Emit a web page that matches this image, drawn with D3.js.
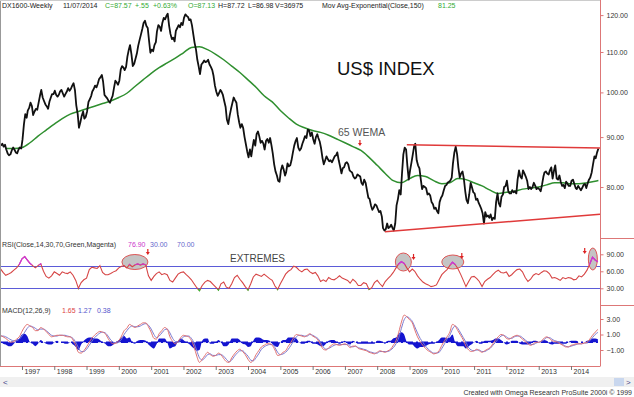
<!DOCTYPE html>
<html>
<head>
<meta charset="utf-8">
<script src="https://cdn.jsdelivr.net/npm/d3@7"></script>
<style>
body { margin: 0; background: #fff; }
svg { display: block; font-family: "Liberation Sans", Arial, sans-serif; }
</style>
</head>
<body>
<svg id="chart" width="634" height="397"></svg>
<script>
let priceClose = [
    88.2, 88.6, 88.0, 88.4, 87.4, 86.6, 86.2, 86.4, 87.2, 87.8, 87.4, 86.8, 86.6, 87.4, 87.8, 87.6,
    89.5, 92.8, 95.0, 94.2, 95.8, 96.4, 97.6, 96.8, 94.8, 95.6, 96.2, 96.0, 97.5, 99.2, 100.6, 98.8, 98.0, 97.2, 96.8, 96.2, 97.8, 98.8, 99.6, 99.6,
    100.4, 99.4, 99.0, 99.5, 100.2, 100.6, 99.8, 99.0, 99.6, 100.2, 101.0, 100.4, 100.8, 101.6, 102.2, 100.5, 97.0, 95.0, 92.0, 93.2, 94.6, 95.6, 94.0, 94.4,
    95.6, 97.8, 98.4, 99.2, 100.2, 100.8, 101.6, 101.2, 102.0, 103.2, 103.6, 104.2, 102.6, 99.4, 99.0, 98.6, 98.0, 97.6, 98.4, 99.2, 101.0, 102.8, 102.4, 101.8,
    102.8, 105.6, 106.4, 106.0, 105.4, 106.2, 108.8, 110.6, 111.8, 109.4, 106.4, 107.0, 108.2, 109.6, 111.6, 113.2, 114.6, 116.2, 117.8, 118.4, 117.0, 116.4, 113.2, 109.8,
    110.6, 110.2, 111.8, 112.6, 115.4, 117.2, 116.8, 115.6, 117.8, 119.2, 118.8, 119.8, 120.4, 117.0, 114.8, 113.4, 113.8, 112.8, 115.6, 116.4, 117.2, 116.6, 117.8, 117.2,
    119.2, 120.2, 119.8, 119.4, 118.6, 118.8, 117.2, 114.6, 112.4, 110.6, 108.0, 106.2, 104.4, 106.8, 107.2, 107.8, 107.4, 107.6, 108.0, 106.8, 106.2, 105.4, 104.0, 101.6,
    100.2, 99.2, 99.8, 100.6, 100.2, 99.4, 98.0, 96.6, 93.8, 92.8, 94.6, 96.2, 97.4, 98.8, 98.2, 97.6, 95.0, 93.2, 92.0, 92.8, 92.0, 90.0, 88.6, 87.0,
    85.8, 87.4, 86.0, 88.0, 89.4, 88.2, 90.6, 91.2, 90.2, 88.8, 89.2, 88.6, 87.4, 89.2, 89.6, 88.8, 89.8, 88.2, 86.6, 84.4, 83.0, 82.2, 81.2, 81.0,
    83.2, 84.2, 83.4, 82.2, 82.8, 84.6, 84.0, 84.2, 85.2, 86.8, 88.2, 89.2, 89.8, 87.8, 87.2, 87.6, 88.6, 89.4, 90.2, 89.8, 91.6, 91.4, 90.2, 91.0,
    89.6, 88.6, 90.0, 90.6, 89.8, 89.0, 87.6, 85.6, 84.4, 85.2, 86.0, 85.4, 85.0, 85.2, 84.8, 85.4, 86.0, 86.2, 86.8, 85.2, 84.0, 82.6, 83.6, 83.8,
    84.6, 84.8, 84.4, 83.2, 83.0, 82.8, 82.0, 81.6, 81.8, 82.4, 82.2, 82.0, 80.8, 80.4, 81.4, 80.8, 79.4, 78.0, 77.8, 76.6, 75.8, 76.2, 76.8, 76.6,
    76.0, 75.4, 75.6, 74.6, 72.6, 72.2, 72.4, 73.4, 72.6, 72.8, 73.2, 72.6, 72.2, 73.4, 76.6, 77.8, 79.4, 78.6, 82.4, 86.4, 87.8, 87.4, 84.2, 81.4,
    83.2, 84.8, 86.4, 88.2, 88.6, 85.2, 84.2, 83.6, 81.6, 79.6, 80.2, 80.0, 79.8, 78.6, 78.8, 78.4, 77.2, 76.8, 76.0, 76.2, 75.6, 75.2, 77.2, 78.0,
    78.4, 79.4, 80.2, 80.4, 80.8, 81.0, 81.2, 81.8, 84.6, 86.8, 88.0, 86.4, 83.8, 81.8, 82.6, 83.0, 81.6, 79.2, 77.6, 77.0, 78.6, 80.8, 80.0, 79.0,
    78.8, 77.6, 77.8, 77.0, 76.6, 76.0, 75.2, 73.4, 75.4, 74.6, 74.8, 74.4, 75.0, 74.0, 74.4, 74.2, 77.2, 78.8, 77.0, 76.4, 78.2, 78.6, 80.0, 80.2,
    81.2, 79.2, 78.8, 78.8, 79.4, 79.0, 79.2, 78.8, 81.4, 83.2, 82.0, 81.6, 83.2, 82.6, 82.0, 81.2, 79.6, 80.0, 79.6, 80.0, 80.8, 80.2, 79.6, 79.8,
    79.6, 79.2, 80.4, 82.0, 82.8, 83.0, 82.6, 82.4, 83.2, 83.8, 81.6, 83.2, 84.2, 81.6, 81.4, 82.2, 81.0, 80.2, 80.4, 79.8, 81.0, 80.6, 80.2, 80.2,
    81.2, 81.4, 80.6, 79.8, 79.6, 80.2, 79.8, 79.4, 79.8, 80.4, 80.6, 79.8, 80.6, 81.4, 81.8, 82.8, 84.4, 86.0, 85.6, 86.8, 87.6
]

// green exponential average, one value per quarter from Jul 1996
let emaValues = [
    87.6, 87.6, 87.8, 88.8, 90.2, 91.5, 92.8, 94.0, 95.0, 95.6, 96.2, 96.8, 97.4, 98.0, 98.8, 99.8,
    101.4, 103.0, 104.6, 106.0, 107.2, 108.4, 109.8, 111.2, 111.4, 110.6, 109.4, 108.0, 106.4, 104.8,
    103.0, 101.2, 99.2, 97.8, 95.8, 94.2, 92.8, 92.0, 91.4, 91.0, 90.4, 89.6, 88.8, 88.0, 87.2, 85.8,
    84.2, 82.6, 81.2, 80.8, 81.6, 82.2, 82.0, 81.2, 80.6, 80.8, 81.6, 81.4, 80.8, 80.2, 79.4, 78.8,
    79.0, 79.2, 79.6, 79.8, 80.0, 80.4, 80.8, 80.8, 80.6, 80.6, 80.8, 81.1
]
let emaLast = 81.25

// monthly RSI(14), May 1996 .. Nov 2014
let rsiValues = [
    65, 58, 53, 55, 58, 62, 66, 72,
    82, 86, 80, 74, 70, 66, 70, 73, 60, 51, 48, 52,
    59, 56, 53, 59, 57, 56, 59, 53, 44, 30, 40, 45,
    48, 63, 67, 66, 65, 70, 58, 54, 54, 56, 59, 61,
    66, 69, 70, 66, 72, 68, 71, 73, 71, 73, 71, 52,
    44, 51, 56, 59, 54, 56, 54, 44, 41, 48, 55, 58,
    59, 54, 50, 45, 38, 31, 26, 35, 41, 44, 42, 37,
    32, 27, 38, 41, 32, 30, 38, 49, 53, 46, 40, 33,
    27, 38, 50, 55, 53, 51, 55, 51, 47, 44, 34, 28,
    38, 47, 55, 60, 63, 69, 67, 62, 59, 63, 64, 59,
    56, 58, 52, 42, 45, 42, 49, 46, 45, 48, 52, 48,
    46, 44, 39, 46, 42, 35, 35, 40, 38, 28, 31, 40,
    44, 38, 33, 42, 47, 52, 58, 66, 73, 77, 74, 66,
    59, 64, 60, 52, 46, 41, 38, 36, 33, 34, 36, 45,
    54, 59, 63, 70, 76, 72, 65, 55, 44, 33, 42, 50,
    51, 47, 42, 33, 42, 46, 49, 54, 59, 62, 58, 57,
    59, 51, 54, 59, 63, 64, 59, 49, 42, 46, 53, 56,
    54, 58, 61, 60, 56, 48, 49, 47, 44, 49, 47, 49,
    48, 45, 46, 52, 50, 55, 62, 73, 85, 80, 76.9
]

// monthly MACD(12,26,9): macd line, its average, and the difference
let macdValues = [
    0.9, 0.7, 0.5, 0.2, 0.0, 0.1, 0.4, 0.7,
    1.4, 2.0, 2.3, 2.1, 1.9, 1.5, 1.5, 1.9, 1.7, 1.4, 1.0, 0.7,
    0.8, 0.9, 0.9, 0.9, 0.8, 0.7, 0.7, 0.3, -0.4, -1.3, -1.4, -1.1,
    -0.6, 0.0, 0.5, 0.9, 1.2, 1.4, 1.3, 1.1, 0.5, 0.0, -0.2, -0.1,
    0.2, 0.8, 1.5, 1.8, 2.3, 2.1, 1.9, 2.1, 2.3, 2.5, 2.5, 2.0,
    1.3, 0.5, 0.4, 1.1, 1.5, 1.9, 1.7, 0.7, 0.1, -0.2, 0.1, 0.6,
    0.9, 0.8, 0.7, 0.2, -0.6, -1.8, -2.6, -2.2, -1.7, -1.3, -1.6, -1.8,
    -1.7, -1.4, -1.6, -2.1, -2.5, -2.6, -2.0, -1.5, -1.1, -0.9, -1.2, -1.6,
    -2.2, -2.6, -2.3, -1.6, -1.1, -0.6, -0.4, -0.2, -0.2, -0.4, -1.0, -1.7,
    -1.6, -1.3, -1.1, -0.5, 0.0, 0.6, 1.0, 0.9, 0.8, 0.7, 0.9, 1.1,
    0.8, 0.6, 0.3, -0.3, -0.9, -1.0, -0.7, -0.4, -0.2, -0.3, -0.4, -0.3,
    -0.2, -0.4, -0.7, -0.5, -0.5, -0.8, -0.9, -1.0, -1.1, -1.3, -1.4, -1.5,
    -1.3, -1.1, -1.2, -1.3, -1.1, -0.9, -0.4, 0.2, 1.3, 2.6, 3.5, 3.3,
    2.9, 2.5, 1.6, 0.7, 0.1, -0.4, -0.8, -1.1, -1.3, -1.5, -1.4, -1.1,
    -0.4, 0.2, 0.7, 1.3, 2.3, 2.1, 1.5, 0.9, 0.3, -0.5, -1.0, -1.2,
    -1.1, -0.9, -1.1, -1.3, -1.1, -0.9, -0.7, -0.2, 0.3, 0.7, 1.0, 0.9,
    0.5, 0.4, 0.6, 0.8, 0.9, 0.7, 0.4, 0.1, -0.2, -0.4, -0.2, 0.0,
    0.0, 0.2, 0.5, 0.7, 0.5, 0.2, 0.1, 0.0, -0.2, -0.4, -0.6, -0.6,
    -0.4, -0.3, -0.2, -0.2, -0.2, -0.1, 0.0, 0.4, 0.9, 1.3, 1.65
]
let macdAvg = [
    0.8, 0.8, 0.7, 0.5, 0.3, 0.2, 0.2, 0.4,
    0.8, 1.3, 1.8, 2.1, 2.0, 1.8, 1.6, 1.7, 1.7, 1.5, 1.2, 0.9,
    0.8, 0.8, 0.9, 0.9, 0.9, 0.8, 0.7, 0.5, 0.0, -0.7, -1.2, -1.2,
    -0.9, -0.4, 0.1, 0.6, 0.9, 1.2, 1.3, 1.2, 0.8, 0.3, 0.0, -0.1,
    0.0, 0.4, 1.0, 1.5, 1.9, 2.1, 2.0, 2.0, 2.1, 2.3, 2.4, 2.2,
    1.7, 1.0, 0.6, 0.8, 1.2, 1.6, 1.7, 1.2, 0.5, 0.1, 0.0, 0.3,
    0.7, 0.8, 0.8, 0.5, -0.1, -1.1, -2.0, -2.3, -2.0, -1.6, -1.5, -1.7,
    -1.7, -1.6, -1.6, -1.8, -2.2, -2.5, -2.3, -1.8, -1.4, -1.1, -1.1, -1.4,
    -1.8, -2.3, -2.4, -2.0, -1.5, -0.9, -0.6, -0.4, -0.3, -0.3, -0.7, -1.3,
    -1.6, -1.5, -1.3, -0.9, -0.4, 0.2, 0.7, 0.9, 0.9, 0.8, 0.8, 1.0,
    0.9, 0.7, 0.5, 0.0, -0.6, -0.9, -0.8, -0.6, -0.4, -0.3, -0.3, -0.3,
    -0.3, -0.3, -0.5, -0.6, -0.5, -0.7, -0.8, -0.9, -1.0, -1.2, -1.3, -1.4,
    -1.4, -1.2, -1.2, -1.2, -1.2, -1.0, -0.7, -0.2, 0.6, 1.8, 2.9, 3.3,
    3.1, 2.7, 2.0, 1.2, 0.5, 0.0, -0.5, -0.9, -1.2, -1.4, -1.4, -1.3,
    -0.8, -0.2, 0.4, 0.9, 1.7, 2.1, 1.8, 1.2, 0.6, 0.0, -0.7, -1.0,
    -1.1, -1.0, -1.0, -1.2, -1.2, -1.0, -0.8, -0.4, 0.0, 0.4, 0.8, 0.9,
    0.7, 0.5, 0.5, 0.7, 0.8, 0.8, 0.6, 0.3, 0.0, -0.3, -0.3, -0.1,
    0.0, 0.1, 0.3, 0.6, 0.6, 0.4, 0.2, 0.1, -0.1, -0.3, -0.5, -0.6,
    -0.5, -0.4, -0.3, -0.2, -0.2, -0.1, -0.1, 0.2, 0.6, 1.0, 1.27
]
// blue histogram blobs as they appear around the zero line
let macdDiff = [
    0.2, -0.2, -0.3, -0.5, -0.5, -0.2, 0.3, 0.5,
    1.0, 1.1, 0.8, 0.0, -0.2, -0.5, -0.2, 0.3, 0.0, -0.2, -0.3, -0.3,
    0.0, 0.2, 0.0, 0.0, -0.2, -0.2, 0.0, -0.3, -0.6, -1.0, -0.3, 0.2,
    0.5, 0.6, 0.6, 0.5, 0.5, 0.3, 0.0, -0.2, -0.5, -0.5, -0.3, 0.0,
    0.3, 0.6, 0.8, 0.5, 0.6, 0.0, -0.2, 0.2, 0.3, 0.3, 0.2, -0.3,
    -0.6, -0.8, -0.3, 0.5, 0.5, 0.5, 0.0, -0.8, -0.6, -0.5, 0.2, 0.5,
    0.3, 0.0, -0.2, -0.5, -0.8, -1.1, -1.0, 0.2, 0.5, 0.5, -0.2, -0.2,
    0.0, 0.3, 0.0, -0.5, -0.5, -0.2, 0.5, 0.5, 0.5, 0.3, -0.2, -0.3,
    -0.6, -0.5, 0.2, 0.6, 0.6, 0.5, 0.3, 0.3, 0.2, -0.2, -0.5, -0.6,
    0.0, 0.3, 0.3, 0.6, 0.6, 0.6, 0.5, 0.0, -0.2, -0.2, 0.2, 0.2,
    -0.2, -0.2, -0.3, -0.5, -0.5, -0.2, 0.2, 0.3, 0.3, 0.0, -0.2, 0.0,
    0.2, -0.2, -0.3, 0.2, 0.0, -0.2, -0.2, -0.2, -0.2, -0.2, -0.2, -0.2,
    0.2, 0.2, 0.0, -0.2, 0.2, 0.2, 0.5, 0.6, 1.1, 1.3, 1.0, 0.0,
    -0.3, -0.3, -0.6, -0.8, -0.6, -0.6, -0.5, -0.3, -0.2, -0.2, 0.0, 0.3,
    0.6, 0.6, 0.5, 0.6, 1.0, 0.0, -0.5, -0.5, -0.5, -0.8, -0.5, -0.3,
    0.0, 0.2, -0.2, -0.2, 0.2, 0.2, 0.2, 0.3, 0.5, 0.5, 0.3, 0.0,
    -0.3, -0.2, 0.2, 0.2, 0.2, -0.2, -0.3, -0.3, -0.3, -0.2, 0.2, 0.2,
    0.0, 0.2, 0.3, 0.2, -0.2, -0.3, -0.2, -0.2, -0.2, -0.2, -0.2, 0.0,
    0.2, 0.2, 0.2, 0.0, 0.0, 0.0, 0.2, 0.3, 0.5, 0.5, 0.38
]

let years = d3.range(1997, 2015)
let priceTicks = [80, 90, 100, 110, 120]
let rsiTicks = [30, 60, 90]
let macdTicks = [-1, 1, 3]

// hand-drawn annotations: [date, value]
let trendTop = [['2008-12-01', 88.4], ['2014-11-25', 87.7]]
let trendBottom = [['2008-03-28', 72.0], ['2014-11-25', 75.0]]
let wemaArrow = ['2007-06-20', 88.1]
let rsiCircles = [['2000-07-01', 76.4], ['2008-10-23', 76.4], ['2010-05-05', 76.4], ['2014-09-05', 81.7]]
let rsiArrows = [['2000-11-24', 88.7], ['2009-02-15', 80], ['2010-08-15', 81.7], ['2014-06-05', 90.5]]

let headerParts = [
    ['DX1600-Weekly', '#222'], ['11/07/2014', '#222'], ['C=87.57', '#3a3'], ['+.55', '#3a3'],
    ['+0.63%', '#3a3'], ['O=87.13', '#3a3'], ['H=87.72', '#222'], ['L=86.98', '#222'],
    ['V=36975', '#222'], ['Mov Avg-Exponential(Close,150)', '#222'], ['81.25', '#3a3']
]
let rsiLegend = [['RSI(Close,14,30,70,Green,Magenta)', '#333'], ['76.90', '#c3c'], ['30.00', '#66c'], ['70.00', '#66c']]
let macdLegend = [['MACD(12,26,9)', '#333'], ['1.65', '#d44'], ['1.27', '#55c'], ['0.38', '#55c']]

let parse = d3.timeParse('%Y-%m-%d')
let priceDates = priceClose.map((d, i) => new Date(1996, 4 + Math.floor(i / 2), i % 2 ? 23 : 7))
let monthDates = rsiValues.map((d, i) => new Date(1996, 4 + i, 1))
let emaDates = emaValues.map((d, i) => new Date(1996, 6 + 3 * i, 1))
emaDates.push(priceDates[priceDates.length - 1])
let emaAll = emaValues.concat([emaLast])

let svg = d3.select('#chart')
let axisX = 600.5
let snap = v => Math.round(v) + 0.5

let x = d3.scaleTime()
    .domain([new Date(1997, 0, 1), new Date(2014, 0, 1)])
    .range([22, 571])
let yMain = d3.scaleLog().domain([80, 120]).range([187, 15.1])
let yRsi = d3.scaleLinear().domain([30, 90]).range([288.3, 254.3])
let yMacd = d3.scaleLinear().domain([-1, 3]).range([350, 319])

let defs = svg.append('defs')
function clip(id, y0, y1) {
    defs.append('clipPath').attr('id', id)
        .append('rect').attr('x', 1).attr('y', y0).attr('width', axisX - 1).attr('height', y1 - y0)
}
clip('mainClip', 10, 238)
clip('rsiClip', 239, 305)
clip('rsiHigh', 239, yRsi(70) - 1)
clip('rsiLow', yRsi(30) + 1, 305)
clip('macdClip', 306, 366)

// frame
svg.append('line').attr('x1', 0.5).attr('x2', 0.5).attr('y1', 0).attr('y2', 366).attr('stroke', '#999')
svg.append('line').attr('x1', 0).attr('x2', axisX).attr('y1', 0.5).attr('y2', 0.5).attr('stroke', '#ccc')
svg.append('line').attr('x1', axisX).attr('x2', axisX).attr('y1', 0).attr('y2', 366).attr('stroke', '#d77')
svg.append('line').attr('x1', 0).attr('x2', axisX).attr('y1', 366.5).attr('y2', 366.5).attr('stroke', '#d77')
;[238.5, 305.5].forEach(yy => {
    svg.append('line').attr('x1', axisX).attr('x2', 634).attr('y1', yy).attr('y2', yy).attr('stroke', '#d77')
})

function legend(items, xs, y) {
    items.forEach((it, i) => {
        svg.append('text').attr('x', xs[i]).attr('y', y)
            .attr('font-size', 7).attr('fill', it[1]).text(it[0])
    })
}
legend(headerParts, [2, 63, 105, 135, 153, 188, 218, 248, 275, 322, 438], 8)
legend(rsiLegend, [2, 128, 150, 177], 247)
legend(macdLegend, [2, 62, 78, 97], 313)

// right axes
function rightAxis(scale, ticks, minor, fmt) {
    let g = svg.append('g').attr('transform', `translate(${axisX},0)`)
    g.call(d3.axisRight(scale).tickValues(minor).tickSize(2).tickFormat(''))
    g.call(d3.axisRight(scale).tickValues(ticks).tickSize(3).tickFormat(fmt))
    g.selectAll('.domain').remove()
    g.selectAll('line').attr('stroke', '#d77')
    g.selectAll('text').attr('font-size', 7).attr('fill', '#333')
        .attr('font-family', '"Liberation Sans", Arial, sans-serif').attr('x', 6)
}
rightAxis(yMain, priceTicks, [], d3.format('.2f'))
rightAxis(yRsi, rsiTicks, d3.range(0, 106, 15), d3.format('.2f'))
rightAxis(yMacd, macdTicks, d3.range(-3, 5), d3.format('.2f'))

// years
let gx = svg.append('g').attr('transform', 'translate(0,366)')
    .call(d3.axisBottom(x).tickValues(years.map(y => new Date(y, 0, 1)))
        .tickSize(4).tickFormat(d3.timeFormat('%Y')))
gx.select('.domain').remove()
gx.selectAll('line').attr('stroke', '#777')
gx.selectAll('text').attr('text-anchor', 'start').attr('x', 2).attr('y', 3)
    .attr('font-size', 7).attr('fill', '#333')
    .attr('font-family', '"Liberation Sans", Arial, sans-serif')

// main panel
let main = svg.append('g').attr('clip-path', 'url(#mainClip)')
main.append('path')
    .datum(emaAll.map((v, i) => [emaDates[i], v]))
    .attr('fill', 'none').attr('stroke', '#2f8f2f').attr('stroke-width', 1.5)
    .attr('d', d3.line().x(d => x(d[0])).y(d => yMain(d[1])).curve(d3.curveMonotoneX))
main.append('path')
    .datum(priceClose.map((v, i) => [priceDates[i], v]))
    .attr('fill', 'none').attr('stroke', '#111').attr('stroke-width', 1.8)
    .attr('stroke-linejoin', 'round')
    .attr('d', d3.line().x(d => x(d[0])).y(d => yMain(d[1])))
;[trendTop, trendBottom].forEach(t => {
    main.append('line')
        .attr('x1', x(parse(t[0][0]))).attr('y1', yMain(t[0][1]))
        .attr('x2', x(parse(t[1][0]))).attr('y2', yMain(t[1][1]))
        .attr('stroke', '#e03a3a').attr('stroke-width', 1.5)
})

function arrow(g, cx, tip) {
    g.append('line').attr('x1', cx).attr('x2', cx).attr('y1', tip - 6).attr('y2', tip - 2)
        .attr('stroke', '#d22').attr('stroke-width', 1.2)
    g.append('path').attr('d', `M${cx - 2},${tip - 3}L${cx + 2},${tip - 3}L${cx},${tip}Z`).attr('fill', '#d22')
}
arrow(svg, x(parse(wemaArrow[0])), yMain(wemaArrow[1]))

svg.append('text').attr('x', 337).attr('y', 74.5).attr('font-size', 18.5).attr('fill', '#111').text('US$ INDEX')
svg.append('text').attr('x', 338).attr('y', 136).attr('font-size', 10.5).attr('fill', '#555').text('65 WEMA')

// RSI panel
let rsi = svg.append('g').attr('clip-path', 'url(#rsiClip)')
;[30, 70].forEach(v => {
    rsi.append('line').attr('x1', 1).attr('x2', axisX).attr('y1', snap(yRsi(v))).attr('y2', snap(yRsi(v)))
        .attr('stroke', '#5b5bd8').attr('stroke-width', 1)
})
let circleR = [[13, 7.5], [8, 9], [11, 7], [4.5, 11]]
rsiCircles.forEach((c, i) => {
    rsi.append('ellipse').attr('cx', x(parse(c[0]))).attr('cy', yRsi(c[1]))
        .attr('rx', circleR[i][0]).attr('ry', circleR[i][1])
        .attr('fill', '#c4c4c4').attr('stroke', '#d55').attr('stroke-width', 1)
})
let rsiLine = d3.line().x((d, i) => x(monthDates[i])).y(d => yRsi(d))
rsi.append('path').datum(rsiValues).attr('fill', 'none').attr('stroke', '#d64545').attr('stroke-width', 1.1).attr('d', rsiLine)
rsi.append('path').datum(rsiValues).attr('fill', 'none').attr('stroke', '#cc33dd').attr('stroke-width', 1.3)
    .attr('clip-path', 'url(#rsiHigh)').attr('d', rsiLine)
rsi.append('path').datum(rsiValues).attr('fill', 'none').attr('stroke', '#33bb33').attr('stroke-width', 1.3)
    .attr('clip-path', 'url(#rsiLow)').attr('d', rsiLine)
rsiArrows.forEach(a => arrow(svg, x(parse(a[0])), yRsi(a[1])))
svg.append('text').attr('x', 230).attr('y', 262).attr('font-size', 10).attr('fill', '#444').text('EXTREMES')

// MACD panel
let macd = svg.append('g').attr('clip-path', 'url(#macdClip)')
macd.append('path').datum(macdDiff)
    .attr('fill', '#1414d0')
    .attr('d', d3.area().x((d, i) => x(monthDates[i])).y0(yMacd(0)).y1(d => yMacd(d)).curve(d3.curveMonotoneX))
macd.append('line').attr('x1', 1).attr('x2', axisX).attr('y1', yMacd(0)).attr('y2', yMacd(0))
    .attr('stroke', '#1414d0').attr('stroke-width', 1.6).attr('stroke-dasharray', '7,3,2,3')
let macdLine = d3.line().x((d, i) => x(monthDates[i])).y(d => yMacd(d)).curve(d3.curveMonotoneX)
macd.append('path').datum(macdAvg).attr('fill', 'none').attr('stroke', '#7a7ad0').attr('stroke-width', 1).attr('d', macdLine)
macd.append('path').datum(macdValues).attr('fill', 'none').attr('stroke', '#e07070').attr('stroke-width', 1).attr('d', macdLine)

// scroll bar + footer
svg.append('rect').attr('x', 0).attr('y', 377).attr('width', 634).attr('height', 10).attr('fill', '#f0f0f0')
svg.append('text').attr('x', 3).attr('y', 385).attr('font-size', 8).attr('fill', '#448').text('<')
svg.append('rect').attr('x', 614).attr('y', 378).attr('width', 10).attr('height', 8).attr('fill', '#c9d7ee')
svg.append('text').attr('x', 626).attr('y', 385).attr('font-size', 8).attr('fill', '#448').text('>')
svg.append('text').attr('x', 632).attr('y', 395).attr('text-anchor', 'end')
    .attr('font-size', 7).attr('fill', '#333').text('Created with Omega Research ProSuite 2000i © 1999')
</script>
</body>
</html>
